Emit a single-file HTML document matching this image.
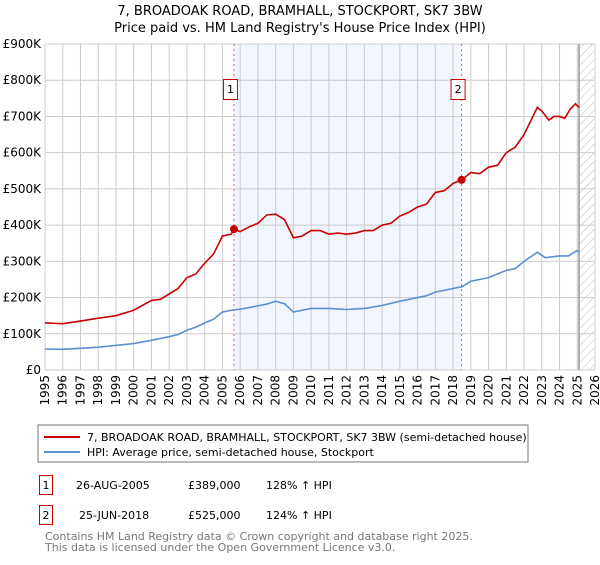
<!DOCTYPE html>
<html><head><meta charset="utf-8"><style>
body{margin:0;background:#fff;}
svg text{font-family:"DejaVu Sans","Liberation Sans",sans-serif;}
</style></head><body>
<svg width="600" height="560" viewBox="0 0 600 560" xmlns="http://www.w3.org/2000/svg">
<defs>
<pattern id="hatch" width="6" height="6" patternUnits="userSpaceOnUse" patternTransform="rotate(45)"><line x1="0" y1="0" x2="0" y2="6" stroke="#bbb" stroke-width="1"/></pattern>
</defs>
<text x="300" y="15" text-anchor="middle" font-size="13">7, BROADOAK ROAD, BRAMHALL, STOCKPORT, SK7 3BW</text>
<text x="300" y="32" text-anchor="middle" font-size="13">Price paid vs. HM Land Registry's House Price Index (HPI)</text>
<g id="plot"></g>
<rect x="38" y="425" width="490" height="37" fill="#fff" stroke="#777"/>
<line x1="44" y1="437" x2="80" y2="437" stroke="#cc0000" stroke-width="2"/>
<text x="87" y="441" font-size="11">7, BROADOAK ROAD, BRAMHALL, STOCKPORT, SK7 3BW (semi-detached house)</text>
<line x1="44" y1="452" x2="80" y2="452" stroke="#5b8fd4" stroke-width="2"/>
<text x="87" y="456" font-size="11">HPI: Average price, semi-detached house, Stockport</text>
<g>
<rect x="39.5" y="475.5" width="13" height="19" fill="#fff" stroke="#cc0000"/>
<text x="46" y="489" font-size="11" text-anchor="middle">1</text>
<text x="76" y="489" font-size="11">26-AUG-2005</text>
<text x="188" y="489" font-size="11">£389,000</text>
<text x="266" y="489" font-size="11">128% ↑ HPI</text>
</g>
<g>
<rect x="39.5" y="505.5" width="13" height="19" fill="#fff" stroke="#cc0000"/>
<text x="46" y="519" font-size="11" text-anchor="middle">2</text>
<text x="79" y="519" font-size="11">25-JUN-2018</text>
<text x="188" y="519" font-size="11">£525,000</text>
<text x="266" y="519" font-size="11">124% ↑ HPI</text>
</g>
<text x="45" y="540" font-size="11" fill="#777">Contains HM Land Registry data © Crown copyright and database right 2025.</text>
<text x="45" y="551" font-size="11" fill="#777">This data is licensed under the Open Government Licence v3.0.</text>
</svg>
<script>
const redYears=[1995,1996,1997,1998,1999,2000,2001,2001.5,2002,2002.5,2003,2003.5,2004,2004.5,2005,2005.5,2005.65,2006,2006.5,2007,2007.5,2008,2008.5,2009,2009.5,2010,2010.5,2011,2011.5,2012,2012.5,2013,2013.5,2014,2014.5,2015,2015.5,2016,2016.5,2017,2017.5,2018,2018.48,2019,2019.5,2020,2020.5,2021,2021.5,2022,2022.5,2022.75,2023,2023.4,2023.7,2024,2024.3,2024.6,2024.9,2025.1];
const redValues=[130,128,135,143,150,165,192,195,210,225,255,265,295,320,370,375,389,382,395,405,428,430,415,365,370,385,385,375,378,375,378,385,385,400,405,425,435,450,458,490,495,515,525,545,542,560,565,600,615,650,700,725,715,690,700,700,695,720,735,725];
const hpiYears=[1995,1996,1997,1998,1999,2000,2001,2002,2002.5,2003,2003.5,2004,2004.5,2005,2005.5,2006,2007,2007.5,2008,2008.5,2009,2009.5,2010,2011,2012,2013,2014,2015,2016,2016.5,2017,2018,2018.5,2019,2020,2021,2021.5,2022,2022.75,2023.2,2024,2024.5,2025,2025.1];
const hpiValues=[58,57,60,63,68,73,82,92,98,110,118,130,140,160,165,168,177,182,190,183,160,165,170,170,167,170,178,190,200,205,215,225,230,245,255,275,280,300,325,310,315,315,330,325];
const sales=[{n:"1",year:2005.65,value:389},{n:"2",year:2018.48,value:525}];
const yTicks=[0,100,200,300,400,500,600,700,800,900];
const xTicks=[1995,1996,1997,1998,1999,2000,2001,2002,2003,2004,2005,2006,2007,2008,2009,2010,2011,2012,2013,2014,2015,2016,2017,2018,2019,2020,2021,2022,2023,2024,2025,2026];
const futureStart=2025.1;
const X0=45,X1=595,Y0=370,Y1=44;
const xs=y=>X0+(y-1995)/(2026-1995)*(X1-X0);
const ys=v=>Y0-v/900*(Y0-Y1);
const NS="http://www.w3.org/2000/svg";
const g=document.getElementById('plot');
function mk(t,a,p){const e=document.createElementNS(NS,t);for(const k in a)e.setAttribute(k,a[k]);(p||g).appendChild(e);return e;}
const shade=mk('rect',{x:xs(sales[0].year),y:Y1,width:xs(sales[1].year)-xs(sales[0].year),height:Y0-Y1,fill:'#eef3fc',opacity:0.8});


const hatch=mk('rect',{x:xs(futureStart),y:Y1,width:X1-xs(futureStart),height:Y0-Y1,fill:'url(#hatch)'});


yTicks.forEach(t=>{
 const l=mk('line',{x1:X0,x2:X1,y1:ys(t),y2:ys(t),stroke:'#ccc'});
 
 
 const tx=mk('text',{x:X0-4,y:ys(t)+4,'text-anchor':'end','font-size':'12'});
 tx.textContent=t===0?'£0':'£'+t+'K';
 
 
});
xTicks.forEach(t=>{
 const l=mk('line',{x1:xs(t),x2:xs(t),y1:Y1,y2:Y0,stroke:'#ccc'});
 
 
 const tx=mk('text',{x:0,y:0,'text-anchor':'end','font-size':'12',transform:`translate(${xs(t)+4},${Y0+5}) rotate(-90)`});
 tx.textContent=t;
 
 
});
const vl=mk('line',{x1:xs(futureStart),x2:xs(futureStart),y1:Y1,y2:Y0,stroke:'#999','stroke-width':1.5});


sales.forEach(s=>{
 const l=mk('line',{x1:xs(s.year),x2:xs(s.year),y1:Y1,y2:Y0,stroke:'#f06060','stroke-dasharray':'2,3'});
 
 
 const r=mk('rect',{x:xs(s.year)-10.5,y:79.5,width:14,height:20,fill:'#fff',stroke:'#cc0000'});
 
 
 const t=mk('text',{x:xs(s.year)-3.5,y:93,'text-anchor':'middle','font-size':'11'});
 t.textContent=s.n;
 
 
});
function line(xa,va,c,name){
 const p=mk('polyline',{points:xa.map((y,i)=>xs(y)+','+ys(va[i])).join(' '),fill:'none',stroke:c,'stroke-width':1.6});
 
 
}
line(hpiYears,hpiValues,'#5b8fd4','hpi-line');
line(redYears,redValues,'#cc0000','property-price-line');
sales.forEach(s=>{
 const c=mk('circle',{cx:xs(s.year),cy:ys(s.value),r:4,fill:'#cc0000'});
 
 
});
</script>
</body></html>
